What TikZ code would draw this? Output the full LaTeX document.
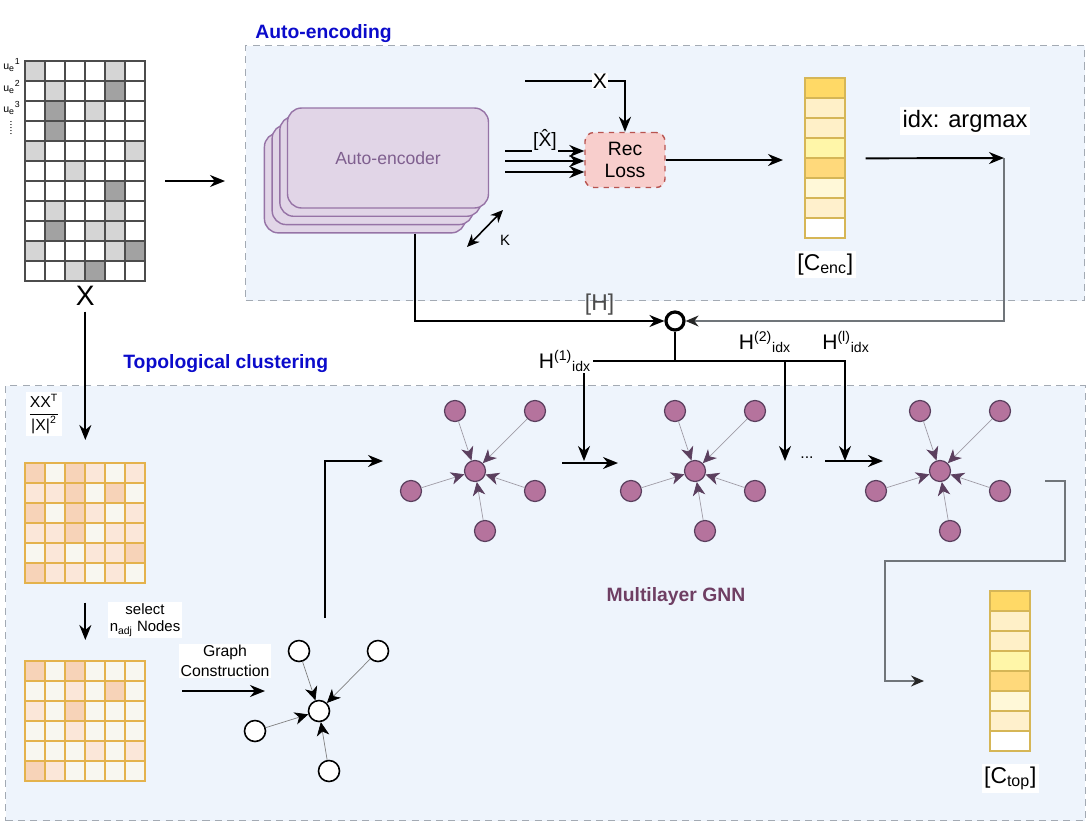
\documentclass[tikz,border=0pt]{standalone}
\usepackage{fontspec}
\setmainfont{Liberation Sans}
\usepackage{amsmath}
\usepackage{xcolor}
\usepackage{tikz}
\usetikzlibrary{arrows.meta, positioning}

\definecolor{panelfill}{HTML}{EEF4FC}
\definecolor{panelline}{HTML}{A3AAB3}
\definecolor{titleblue}{HTML}{0B0BCB}
\definecolor{aefill}{HTML}{E1D5E7}
\definecolor{aeline}{HTML}{9673A6}
\definecolor{aetext}{HTML}{7F5F8F}
\definecolor{lossfill}{HTML}{F8CECC}
\definecolor{lossline}{HTML}{B85450}
\definecolor{gnnfill}{HTML}{B5739D}
\definecolor{gnnline}{HTML}{5B3F5E}
\definecolor{gnntext}{HTML}{6F3F63}
\definecolor{linkgray}{HTML}{70757A}
\definecolor{edgegray}{HTML}{A09CA6}
% cells of X
\definecolor{xw}{HTML}{FFFFFF}
\definecolor{xl}{HTML}{D5D5D5}
\definecolor{xd}{HTML}{A2A2A2}
% cells of the similarity matrices
\definecolor{sw}{HTML}{F8F7F0}
\definecolor{sm}{HTML}{FBE7D9}
\definecolor{sd}{HTML}{F7D3B8}
\definecolor{simline}{HTML}{E4B24C}
% cluster vectors
\definecolor{vecline}{HTML}{D6B656}
\definecolor{va}{HTML}{FFD966}
\definecolor{vb}{HTML}{FFF0C8}
\definecolor{vc}{HTML}{FFF6A8}
\definecolor{vd}{HTML}{FFD97B}
\definecolor{ve}{HTML}{FFF8D8}
\definecolor{vf}{HTML}{FFF0CC}
\definecolor{vg}{HTML}{FFFFFF}

\begin{document}
\begin{tikzpicture}[
    x=0.02cm, y=-0.02cm,
    every node/.style={align=center, font=\fontsize{10}{12}\selectfont},
    panel/.style={draw=panelline, fill=panelfill, line width=0.8pt, dash pattern=on 4pt off 3pt, inner sep=0pt},
    title/.style={font=\fontsize{11}{13}\selectfont\bfseries, text=titleblue, inner sep=0pt},
    aebox/.style={draw=aeline, fill=aefill, line width=0.8pt, rounded corners=8pt, minimum width=4.02cm, minimum height=2cm},
    loss/.style={draw=lossline, dashed, fill=lossfill, line width=0.8pt, rounded corners=5pt, minimum width=1.6cm, minimum height=1.1cm, font=\fontsize{11}{13}\selectfont},
    gnode/.style={circle, draw=gnnline, fill=gnnfill, line width=0.7pt, minimum size=0.42cm, inner sep=0pt},
    wnode/.style={circle, draw=black, fill=white, line width=0.9pt, minimum size=0.42cm, inner sep=0pt},
    gnnedge/.style={draw=edgegray, line width=0.4pt, -{Stealth[length=2.7mm, width=2.5mm, inset=0.8mm, color=gnnline]}},
    buildedge/.style={draw=gray, line width=0.4pt, -{Stealth[length=2.7mm, width=2.5mm, inset=0.8mm, color=black]}},
    arrow/.style={-{Stealth[length=3mm, width=2.4mm]}, line width=1.1pt},
    greyarrow/.style={-{Stealth[length=2.6mm, width=2.2mm, color=black!85]}, line width=0.9pt, draw=linkgray},
    lbl/.style={fill=white, inner sep=1.5pt},
    small/.style={font=\fontsize{8.5}{10}\selectfont},
    big/.style={font=\fontsize{13}{15}\selectfont},
    xcell/.style={draw=black!70, line width=0.6pt},
    simcell/.style={draw=simline, line width=0.7pt},
    vcell/.style={draw=vecline, line width=0.7pt},
    box/.style={anchor=north west, inner sep=0pt}
]
\useasboundingbox (0,0) rectangle (1086,822);

% Panels
\node[panel, anchor=north west, minimum width=16.78cm, minimum height=5.1cm] (aepanel) at (245,45) {};
\node[panel, anchor=north west, minimum width=21.6cm, minimum height=8.7cm] (topopanel) at (5,385) {};
\node[title, anchor=base west] (aetitle) at (255,38) {Auto-encoding};
\node[title, anchor=base west] (topotitle) at (123,368) {Topological clustering};

% Input matrix X
\node[box, minimum width=2.4cm, minimum height=4.4cm] (Xmat) at (25,61) {};
\foreach \row [count=\r from 0] in {{l,w,w,w,l,w},{w,l,w,w,d,w},{w,d,w,l,w,w},{w,d,w,w,w,w},{l,w,w,w,w,l},{w,w,l,w,w,w},{w,w,w,w,d,w},{w,l,w,w,l,w},{w,d,w,l,l,w},{l,w,w,w,l,d},{w,w,l,d,w,w}}
  \foreach \s [count=\c from 0] in \row
    \draw[xcell, fill=x\s] (25+20*\c,61+20*\r) rectangle ++(20,20);
\node[font=\fontsize{6}{7}\selectfont, inner sep=0pt] (u1) at (12,65) {u\textsubscript{e}\textsuperscript{1}};
\node[font=\fontsize{6}{7}\selectfont, inner sep=0pt] (u2) at (12,87) {u\textsubscript{e}\textsuperscript{2}};
\node[font=\fontsize{6}{7}\selectfont, inner sep=0pt] (u3) at (12,108) {u\textsubscript{e}\textsuperscript{3}};
\node[font=\fontsize{6}{7}\selectfont, inner sep=0pt, rotate=90] (udots) at (11,128) {.....};
\node[font=\fontsize{16}{18}\selectfont, below=-1pt of Xmat] (Xlbl) {X};

\coordinate (xout) at (165,181);
\coordinate (aein) at (225,181);
\draw[arrow] (xout) -- (aein);

% Stack of K auto-encoders
\foreach \i in {3,2,1}
  \node[aebox] (ae\i) at (388-7.7*\i,158+8.3*\i) {};
\node[aebox, text=aetext] (ae0) at (388,158) {Auto-encoder};
\draw[{Stealth[length=2.5mm, width=2.2mm]}-{Stealth[length=2.5mm, width=2.2mm]}, line width=0.9pt] (467,247) -- (503,210);
\node[small, lbl, fill=panelfill] (klbl) at (505,240) {K};

% Reconstruction loss
\node[loss] (loss) at (625,160) {Rec\\Loss};
\foreach \y in {151,161,172}
  \draw[arrow] (505,\y) -- (loss.west |- 0,\y);
\node[lbl, fill=panelfill, inner sep=0.5pt, font=\fontsize{11}{13}\selectfont] (xhat) at (545,140) {[\^X]};
\coordinate (xin) at (525,81);
\draw[arrow] (xin) -| (loss.north) node[lbl, pos=0.375, font=\fontsize{12}{14}\selectfont, inner sep=0.5pt] (xinlbl) {X};

% Encoder clusters
\node[box, minimum width=0.8cm, minimum height=3.2cm] (cenc) at (805,78) {};
\foreach \s [count=\i from 0] in {a,b,b,c,d,e,f,g}
  \draw[vcell, fill=v\s] (805,78+20*\i) rectangle ++(40,20);
\node[big, lbl, below=7pt of cenc] (cenclbl) {[C\textsubscript{enc}]};
\coordinate (encin) at (783,160);
\draw[arrow] (loss.east) -- (encin);
\coordinate (argmax) at (1004,158);
\draw[arrow] ([xshift=0.4cm]cenc.east) -- (argmax);
\node[lbl, font=\fontsize{13.5}{15}\selectfont] (argmaxlbl) at (965,121) {idx: argmax};

% Selection of the hidden states
\node[circle, draw, fill=white, line width=1.8pt, minimum size=0.36cm, inner sep=0pt] (junc) at (675,321) {};
\draw[greyarrow] (argmax) |- (junc.east);
\draw[arrow] ([xshift=1cm]ae3.south) |- (junc.west) node[pos=0.87, above=3pt, big, text=black!70, inner sep=0pt] (hlbl) {[H]};
\coordinate (split) at (675,361);
\draw[line width=1.1pt] (junc.south) -- (split);
\coordinate (h1tip) at (584,461);
\coordinate (h2tip) at (785,461);
\coordinate (hltip) at (845,461);
\draw[arrow] (split) -| (h1tip) node[lbl, pos=0.5, xshift=-0.38cm, font=\fontsize{12}{14}\selectfont, inner sep=1pt] (h1lbl) {H\textsuperscript{(1)}\textsubscript{idx}};
\draw[arrow] (split) -| (h2tip);
\draw[arrow] (split) -| (hltip);
\node[font=\fontsize{12}{14}\selectfont, inner sep=1pt] (h2lbl) at (765,342) {H\textsuperscript{(2)}\textsubscript{idx}};
\node[font=\fontsize{12}{14}\selectfont, inner sep=1pt] (hllbl) at (846,342) {H\textsuperscript{(l)}\textsubscript{idx}};

% Similarity matrix
\node[lbl, font=\fontsize{9}{11}\selectfont, inner sep=1pt] (simlbl) at (44,414) {$\dfrac{\text{XX}^{\text{T}}}{\text{|X|}^{\text{2}}}$};
\node[box, minimum width=2.4cm, minimum height=2.4cm] (sim1) at (25,463) {};
\foreach \row [count=\r from 0] in {{d,w,d,m,w,m},{m,m,d,w,d,w},{d,w,d,m,w,m},{m,m,d,w,m,m},{w,m,w,m,m,d},{d,m,m,w,m,w}}
  \foreach \s [count=\c from 0] in \row
    \draw[simcell, fill=s\s] (25+20*\c,463+20*\r) rectangle ++(20,20);
\draw[arrow] (Xlbl.south) -- ([yshift=0.46cm]sim1.north);

% Selected nodes
\node[box, minimum width=2.4cm, minimum height=2.4cm] (sim2) at (25,661) {};
\foreach \row [count=\r from 0] in {{d,w,d,w,w,w},{w,w,m,w,d,w},{m,w,d,w,w,w},{w,w,m,w,w,w},{w,w,w,m,w,m},{d,m,w,w,w,w}}
  \foreach \s [count=\c from 0] in \row
    \draw[simcell, fill=s\s] (25+20*\c,661+20*\r) rectangle ++(20,20);
\draw[arrow] ([yshift=-0.38cm]sim1.south) -- ([yshift=0.42cm]sim2.north);
\node[lbl, font=\fontsize{8.5}{10}\selectfont, inner sep=1pt] (selectlbl) at (145,620) {select\\n\textsubscript{adj} Nodes};

% Graph construction
\node[wnode] (wc) at (319,711) {};
\node[wnode] (wa) at (299,651) {};
\node[wnode] (wb) at (378,651) {};
\node[wnode] (wl) at (255,731) {};
\node[wnode] (wd) at (329,771) {};
\foreach \o in {a,b,l,d}
  \draw[buildedge] (w\o) -- (wc);
\coordinate (simout) at (182,691);
\coordinate (graphin) at (265,691);
\draw[arrow] (simout) -- (graphin);
\node[lbl, font=\fontsize{9}{11}\selectfont, inner sep=1pt] (buildlbl) at (225,661) {Graph\\Construction};
\coordinate (buildout) at (325,618);
\coordinate (gnnin) at (383,461);
\draw[arrow] (buildout) |- (gnnin);

% Multilayer GNN
\foreach \g/\cx in {1/475, 2/695, 3/940} {
  \node[gnode] (gc\g) at (\cx,471) {};
  \node[gnode] (ga\g) at (\cx-20,411) {};
  \node[gnode] (gb\g) at (\cx+60,411) {};
  \node[gnode] (gl\g) at (\cx-64,491) {};
  \node[gnode] (gr\g) at (\cx+60,491) {};
  \node[gnode] (gd\g) at (\cx+10,531) {};
  \foreach \o in {a,b,l,r,d}
    \draw[gnnedge] (g\o\g) -- (gc\g);
}
\draw[arrow] (562,463) -- (618,463);
\node[font=\fontsize{9}{11}\selectfont] (gdots) at (807,458) {...};
\draw[arrow] (825,461) -- (883,461);
\node[font=\fontsize{11}{13}\selectfont\bfseries, text=gnntext] (gnnlbl) at (676,596) {Multilayer GNN};

% Topological clusters
\node[box, minimum width=0.8cm, minimum height=3.2cm] (ctop) at (990,591) {};
\foreach \s [count=\i from 0] in {a,b,b,c,d,e,f,g}
  \draw[vcell, fill=v\s] (990,591+20*\i) rectangle ++(40,20);
\node[big, lbl, below=7pt of ctop] (ctoplbl) {[C\textsubscript{top}]};
\coordinate (gnnout) at (1045,481);
\coordinate (ctopin) at (924,681);
\draw[greyarrow] (gnnout) -- (1065,481) -- (1065,561) -- (885,561) |- (ctopin);

\end{tikzpicture}
\end{document}
